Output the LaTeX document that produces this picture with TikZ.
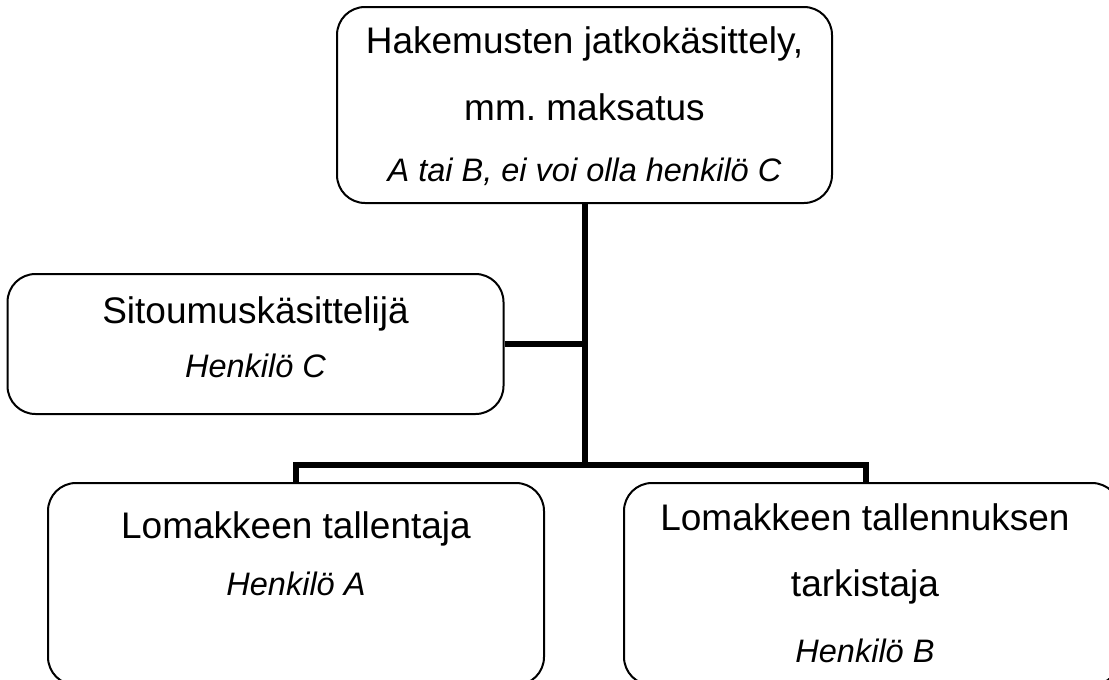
\documentclass[tikz,border=0pt]{standalone}
\usepackage{fontspec}
\setmainfont{Liberation Sans}
\frenchspacing
\begin{document}
\begin{tikzpicture}[x=1pt,y=-1pt,
  box/.style={draw=black, line width=2pt, rounded corners=28pt, fill=white, inner sep=0pt},
  conn/.style={draw=black, line width=6pt},
  main/.style={anchor=base, inner sep=0pt, font=\fontsize{37}{40}\selectfont},
  sub/.style={anchor=base, inner sep=0pt, font=\fontsize{32.5}{36}\selectfont\itshape}]
\useasboundingbox (0,0) rectangle (1109,680);
\clip (0,0) rectangle (1109,680);
% boxes
\node[box, minimum width=495pt, minimum height=196pt] (top) at (584.5,105) {};
\node[box, minimum width=496pt, minimum height=140pt] (left) at (255.5,344) {};
\node[box, minimum width=496pt, minimum height=202pt] (bl) at (296,584) {};
\node[box, minimum width=496pt, minimum height=202pt] (br) at (872,584) {};
% connectors
\coordinate (j1) at (top.south |- left.east);
\coordinate (bus) at (584.5,465);
\coordinate (busl) at (bl.north |- bus);
\coordinate (busr) at (866,465);
\coordinate (brtop) at (866,483);
\draw[conn] (top.south) -- (bus);
\draw[conn] (left.east) -- (j1);
\draw[conn, line join=miter] (bl.north) -- (busl) -- (busr) -- (brtop);
% texts
\node[main] (t1) at (584.5,53) {Hakemusten jatkokäsittely,};
\node[main] (t2) at (584.5,120) {mm. maksatus};
\node[sub] (t3) at (584.5,181) {A tai B, ei voi olla henkilö C};
\node[main] (l1) at (255.5,323) {Sitoumuskäsittelijä};
\node[sub] (l2) at (255.5,377) {Henkilö C};
\node[main] (a1) at (296,538) {Lomakkeen tallentaja};
\node[sub] (a2) at (296,595) {Henkilö A};
\node[main] (b1) at (865,530) {Lomakkeen tallennuksen};
\node[main] (b2) at (865,596) {tarkistaja};
\node[sub] (b3) at (865,662) {Henkilö B};
\end{tikzpicture}
\end{document}
